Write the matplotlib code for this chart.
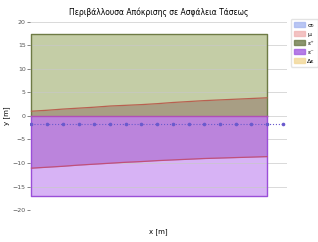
import matplotlib
matplotlib.use("Agg")
import matplotlib.pyplot as plt
import numpy as np

# envelope data
x_fill = [0, 1, 2, 3, 4, 5, 6, 7, 8, 9, 10, 11, 12, 13, 14, 15]
upper_env = [17.4] * 16
upper_mean = [1.0, 1.2, 1.45, 1.65, 1.85, 2.1, 2.25, 2.4, 2.6, 2.85, 3.05, 3.25, 3.4, 3.55, 3.7, 3.85]
lower_env = [-17.0] * 16
lower_mean = [-11.1, -10.9, -10.7, -10.45, -10.25, -10.05, -9.85, -9.7, -9.5, -9.35, -9.2, -9.05, -8.95, -8.85, -8.75, -8.65]
x_pts = list(range(17))
baseline = [-1.7] * 17

labels = ["σ₀", "μ", "ε⁺", "ε⁻", "Δε"]
colors = ["#a8b8f0", "#f0b4b4", "#6e7b4a", "#a45ee0", "#f2d898"]

fig = plt.figure(figsize=(3.18, 2.42), dpi=100)
ax = fig.add_axes([0.094, 0.132, 0.81, 0.778])

ax.fill_between(x_fill, 0, upper_env, color="#c4cda6", lw=0, zorder=1)
ax.plot([0, 0, 15, 15], [0, 17.4, 17.4, 0], color="#6e7b45", lw=1.0, zorder=3)
ax.fill_between(x_fill, 0, upper_mean, color="#a89e84", lw=0, zorder=2)
ax.plot(x_fill, upper_mean, color="#b86050", lw=0.9, zorder=3)

ax.fill_between(x_fill, lower_env, 0, color="#d7b3f5", lw=0, zorder=1)
ax.fill_between(x_fill, lower_mean, 0, color="#bb84dc", lw=0, zorder=2)
ax.plot([0, 0, 15, 15], [0, -17, -17, 0], color="#9a4fd8", lw=1.0, zorder=3)
ax.plot([0, 15], [0, 0], color="#b04fb8", lw=1.0, zorder=3)
ax.plot(x_fill, lower_mean, color="#c0507a", lw=0.9, zorder=3)

ax.plot(x_pts, baseline, ls=":", color="#6a5acd", lw=0.8, marker="o",
        ms=1.6, zorder=4)

ax.set_xlim(-0.1, 16.3)
ax.set_ylim(-20, 20)
ax.set_yticks(np.arange(-20, 21, 5))
ax.set_xticks([])
ax.grid(axis="y", color="#c8c8c8", lw=0.6, alpha=0.8, zorder=2.5)
for s in ax.spines.values():
    s.set_visible(False)
ax.tick_params(axis="y", labelsize=4.5, length=2, width=0.5, pad=1,
               colors="#555555")

ax.set_title("Περιβάλλουσα Απόκρισης σε Ασφάλεια Τάσεως", fontsize=5.5, pad=5)
ax.set_xlabel("x [m]", fontsize=5, labelpad=13)
ax.set_ylabel("y [m]", fontsize=5, labelpad=2)

handles = [plt.Rectangle((0, 0), 1, 1, fc=c, ec=c, alpha=0.8) for c in colors]
fig.legend(handles, labels, loc="upper left", bbox_to_anchor=(0.905, 0.935),
           fontsize=4.5, frameon=True, edgecolor="#dddddd", handlelength=1.8,
           handleheight=0.8, borderpad=0.5, labelspacing=0.55, handletextpad=0.3)

fig.savefig("out.png", dpi=100)
